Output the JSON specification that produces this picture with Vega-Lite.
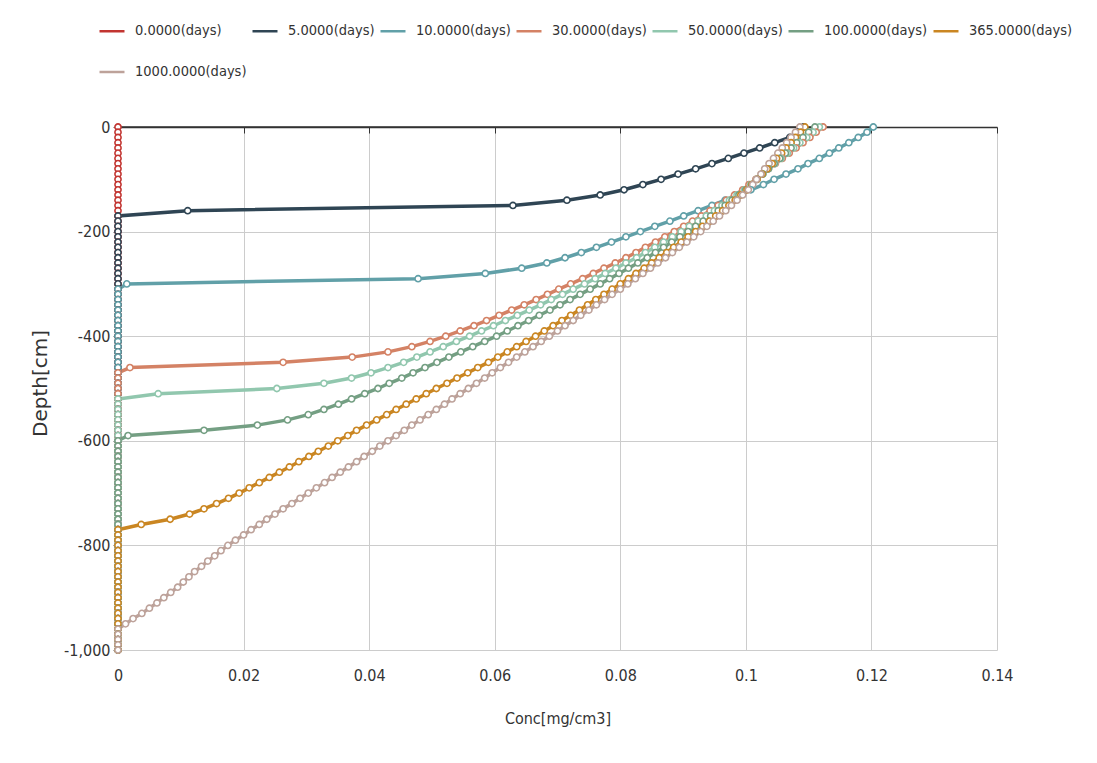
{
"$schema": "https://vega.github.io/schema/vega-lite/v6.json",
"width": 879, "height": 523,
"autosize": {"type": "none"},
"padding": {"left": 118, "top": 127, "right": 100, "bottom": 113},
"background": "white",
"config": {"view": {"stroke": null}, "font": "DejaVu Sans Condensed, Liberation Sans, sans-serif"},
"data": {"values": [
{"s":"0.0000(days)","d":0,"c":0},{"s":"0.0000(days)","d":-10,"c":0},{"s":"0.0000(days)","d":-20,"c":0},{"s":"0.0000(days)","d":-30,"c":0},{"s":"0.0000(days)","d":-40,"c":0},{"s":"0.0000(days)","d":-50,"c":0},{"s":"0.0000(days)","d":-60,"c":0},{"s":"0.0000(days)","d":-70,"c":0},{"s":"0.0000(days)","d":-80,"c":0},{"s":"0.0000(days)","d":-90,"c":0},{"s":"0.0000(days)","d":-100,"c":0},{"s":"0.0000(days)","d":-110,"c":0},{"s":"0.0000(days)","d":-120,"c":0},{"s":"0.0000(days)","d":-130,"c":0},{"s":"0.0000(days)","d":-140,"c":0},{"s":"0.0000(days)","d":-150,"c":0},{"s":"0.0000(days)","d":-160,"c":0},{"s":"0.0000(days)","d":-170,"c":0},{"s":"0.0000(days)","d":-180,"c":0},{"s":"0.0000(days)","d":-190,"c":0},{"s":"0.0000(days)","d":-200,"c":0},{"s":"0.0000(days)","d":-210,"c":0},{"s":"0.0000(days)","d":-220,"c":0},{"s":"0.0000(days)","d":-230,"c":0},{"s":"0.0000(days)","d":-240,"c":0},{"s":"0.0000(days)","d":-250,"c":0},{"s":"0.0000(days)","d":-260,"c":0},{"s":"0.0000(days)","d":-270,"c":0},{"s":"0.0000(days)","d":-280,"c":0},{"s":"0.0000(days)","d":-290,"c":0},{"s":"0.0000(days)","d":-300,"c":0},{"s":"0.0000(days)","d":-310,"c":0},{"s":"0.0000(days)","d":-320,"c":0},{"s":"0.0000(days)","d":-330,"c":0},{"s":"0.0000(days)","d":-340,"c":0},{"s":"0.0000(days)","d":-350,"c":0},{"s":"0.0000(days)","d":-360,"c":0},{"s":"0.0000(days)","d":-370,"c":0},{"s":"0.0000(days)","d":-380,"c":0},{"s":"0.0000(days)","d":-390,"c":0},{"s":"0.0000(days)","d":-400,"c":0},{"s":"0.0000(days)","d":-410,"c":0},{"s":"0.0000(days)","d":-420,"c":0},{"s":"0.0000(days)","d":-430,"c":0},{"s":"0.0000(days)","d":-440,"c":0},{"s":"0.0000(days)","d":-450,"c":0},{"s":"0.0000(days)","d":-460,"c":0},{"s":"0.0000(days)","d":-470,"c":0},{"s":"0.0000(days)","d":-480,"c":0},{"s":"0.0000(days)","d":-490,"c":0},{"s":"0.0000(days)","d":-500,"c":0},{"s":"0.0000(days)","d":-510,"c":0},{"s":"0.0000(days)","d":-520,"c":0},{"s":"0.0000(days)","d":-530,"c":0},{"s":"0.0000(days)","d":-540,"c":0},{"s":"0.0000(days)","d":-550,"c":0},{"s":"0.0000(days)","d":-560,"c":0},{"s":"0.0000(days)","d":-570,"c":0},{"s":"0.0000(days)","d":-580,"c":0},{"s":"0.0000(days)","d":-590,"c":0},{"s":"0.0000(days)","d":-600,"c":0},{"s":"0.0000(days)","d":-610,"c":0},{"s":"0.0000(days)","d":-620,"c":0},{"s":"0.0000(days)","d":-630,"c":0},{"s":"0.0000(days)","d":-640,"c":0},{"s":"0.0000(days)","d":-650,"c":0},{"s":"0.0000(days)","d":-660,"c":0},{"s":"0.0000(days)","d":-670,"c":0},{"s":"0.0000(days)","d":-680,"c":0},{"s":"0.0000(days)","d":-690,"c":0},{"s":"0.0000(days)","d":-700,"c":0},{"s":"0.0000(days)","d":-710,"c":0},{"s":"0.0000(days)","d":-720,"c":0},{"s":"0.0000(days)","d":-730,"c":0},{"s":"0.0000(days)","d":-740,"c":0},{"s":"0.0000(days)","d":-750,"c":0},{"s":"0.0000(days)","d":-760,"c":0},{"s":"0.0000(days)","d":-770,"c":0},{"s":"0.0000(days)","d":-780,"c":0},{"s":"0.0000(days)","d":-790,"c":0},{"s":"0.0000(days)","d":-800,"c":0},{"s":"0.0000(days)","d":-810,"c":0},{"s":"0.0000(days)","d":-820,"c":0},{"s":"0.0000(days)","d":-830,"c":0},{"s":"0.0000(days)","d":-840,"c":0},{"s":"0.0000(days)","d":-850,"c":0},{"s":"0.0000(days)","d":-860,"c":0},{"s":"0.0000(days)","d":-870,"c":0},{"s":"0.0000(days)","d":-880,"c":0},{"s":"0.0000(days)","d":-890,"c":0},{"s":"0.0000(days)","d":-900,"c":0},{"s":"0.0000(days)","d":-910,"c":0},{"s":"0.0000(days)","d":-920,"c":0},{"s":"0.0000(days)","d":-930,"c":0},{"s":"0.0000(days)","d":-940,"c":0},{"s":"0.0000(days)","d":-950,"c":0},{"s":"0.0000(days)","d":-960,"c":0},{"s":"0.0000(days)","d":-970,"c":0},{"s":"0.0000(days)","d":-980,"c":0},{"s":"0.0000(days)","d":-990,"c":0},{"s":"0.0000(days)","d":-1000,"c":0},
{"s":"5.0000(days)","d":0,"c":0.1092},{"s":"5.0000(days)","d":-10,"c":0.1082},{"s":"5.0000(days)","d":-20,"c":0.107},{"s":"5.0000(days)","d":-30,"c":0.1046},{"s":"5.0000(days)","d":-40,"c":0.1022},{"s":"5.0000(days)","d":-50,"c":0.0997},{"s":"5.0000(days)","d":-60,"c":0.0972},{"s":"5.0000(days)","d":-70,"c":0.0946},{"s":"5.0000(days)","d":-80,"c":0.092},{"s":"5.0000(days)","d":-90,"c":0.0892},{"s":"5.0000(days)","d":-100,"c":0.0865},{"s":"5.0000(days)","d":-110,"c":0.0836},{"s":"5.0000(days)","d":-120,"c":0.0806},{"s":"5.0000(days)","d":-130,"c":0.0768},{"s":"5.0000(days)","d":-140,"c":0.0715},{"s":"5.0000(days)","d":-150,"c":0.0629},{"s":"5.0000(days)","d":-160,"c":0.0111},{"s":"5.0000(days)","d":-170,"c":0},{"s":"5.0000(days)","d":-180,"c":0},{"s":"5.0000(days)","d":-190,"c":0},{"s":"5.0000(days)","d":-200,"c":0},{"s":"5.0000(days)","d":-210,"c":0},{"s":"5.0000(days)","d":-220,"c":0},{"s":"5.0000(days)","d":-230,"c":0},{"s":"5.0000(days)","d":-240,"c":0},{"s":"5.0000(days)","d":-250,"c":0},{"s":"5.0000(days)","d":-260,"c":0},{"s":"5.0000(days)","d":-270,"c":0},{"s":"5.0000(days)","d":-280,"c":0},{"s":"5.0000(days)","d":-290,"c":0},{"s":"5.0000(days)","d":-300,"c":0},{"s":"5.0000(days)","d":-310,"c":0},{"s":"5.0000(days)","d":-320,"c":0},{"s":"5.0000(days)","d":-330,"c":0},{"s":"5.0000(days)","d":-340,"c":0},{"s":"5.0000(days)","d":-350,"c":0},{"s":"5.0000(days)","d":-360,"c":0},{"s":"5.0000(days)","d":-370,"c":0},{"s":"5.0000(days)","d":-380,"c":0},{"s":"5.0000(days)","d":-390,"c":0},{"s":"5.0000(days)","d":-400,"c":0},{"s":"5.0000(days)","d":-410,"c":0},{"s":"5.0000(days)","d":-420,"c":0},{"s":"5.0000(days)","d":-430,"c":0},{"s":"5.0000(days)","d":-440,"c":0},{"s":"5.0000(days)","d":-450,"c":0},{"s":"5.0000(days)","d":-460,"c":0},{"s":"5.0000(days)","d":-470,"c":0},{"s":"5.0000(days)","d":-480,"c":0},{"s":"5.0000(days)","d":-490,"c":0},{"s":"5.0000(days)","d":-500,"c":0},{"s":"5.0000(days)","d":-510,"c":0},{"s":"5.0000(days)","d":-520,"c":0},{"s":"5.0000(days)","d":-530,"c":0},{"s":"5.0000(days)","d":-540,"c":0},{"s":"5.0000(days)","d":-550,"c":0},{"s":"5.0000(days)","d":-560,"c":0},{"s":"5.0000(days)","d":-570,"c":0},{"s":"5.0000(days)","d":-580,"c":0},{"s":"5.0000(days)","d":-590,"c":0},{"s":"5.0000(days)","d":-600,"c":0},{"s":"5.0000(days)","d":-610,"c":0},{"s":"5.0000(days)","d":-620,"c":0},{"s":"5.0000(days)","d":-630,"c":0},{"s":"5.0000(days)","d":-640,"c":0},{"s":"5.0000(days)","d":-650,"c":0},{"s":"5.0000(days)","d":-660,"c":0},{"s":"5.0000(days)","d":-670,"c":0},{"s":"5.0000(days)","d":-680,"c":0},{"s":"5.0000(days)","d":-690,"c":0},{"s":"5.0000(days)","d":-700,"c":0},{"s":"5.0000(days)","d":-710,"c":0},{"s":"5.0000(days)","d":-720,"c":0},{"s":"5.0000(days)","d":-730,"c":0},{"s":"5.0000(days)","d":-740,"c":0},{"s":"5.0000(days)","d":-750,"c":0},{"s":"5.0000(days)","d":-760,"c":0},{"s":"5.0000(days)","d":-770,"c":0},{"s":"5.0000(days)","d":-780,"c":0},{"s":"5.0000(days)","d":-790,"c":0},{"s":"5.0000(days)","d":-800,"c":0},{"s":"5.0000(days)","d":-810,"c":0},{"s":"5.0000(days)","d":-820,"c":0},{"s":"5.0000(days)","d":-830,"c":0},{"s":"5.0000(days)","d":-840,"c":0},{"s":"5.0000(days)","d":-850,"c":0},{"s":"5.0000(days)","d":-860,"c":0},{"s":"5.0000(days)","d":-870,"c":0},{"s":"5.0000(days)","d":-880,"c":0},{"s":"5.0000(days)","d":-890,"c":0},{"s":"5.0000(days)","d":-900,"c":0},{"s":"5.0000(days)","d":-910,"c":0},{"s":"5.0000(days)","d":-920,"c":0},{"s":"5.0000(days)","d":-930,"c":0},{"s":"5.0000(days)","d":-940,"c":0},{"s":"5.0000(days)","d":-950,"c":0},{"s":"5.0000(days)","d":-960,"c":0},{"s":"5.0000(days)","d":-970,"c":0},{"s":"5.0000(days)","d":-980,"c":0},{"s":"5.0000(days)","d":-990,"c":0},{"s":"5.0000(days)","d":-1000,"c":0},
{"s":"10.0000(days)","d":0,"c":0.1203},{"s":"10.0000(days)","d":-10,"c":0.1193},{"s":"10.0000(days)","d":-20,"c":0.1179},{"s":"10.0000(days)","d":-30,"c":0.1164},{"s":"10.0000(days)","d":-40,"c":0.1148},{"s":"10.0000(days)","d":-50,"c":0.1133},{"s":"10.0000(days)","d":-60,"c":0.1117},{"s":"10.0000(days)","d":-70,"c":0.1099},{"s":"10.0000(days)","d":-80,"c":0.1083},{"s":"10.0000(days)","d":-90,"c":0.1064},{"s":"10.0000(days)","d":-100,"c":0.1045},{"s":"10.0000(days)","d":-110,"c":0.1028},{"s":"10.0000(days)","d":-120,"c":0.1008},{"s":"10.0000(days)","d":-130,"c":0.0988},{"s":"10.0000(days)","d":-140,"c":0.0967},{"s":"10.0000(days)","d":-150,"c":0.0946},{"s":"10.0000(days)","d":-160,"c":0.0924},{"s":"10.0000(days)","d":-170,"c":0.0901},{"s":"10.0000(days)","d":-180,"c":0.0879},{"s":"10.0000(days)","d":-190,"c":0.0855},{"s":"10.0000(days)","d":-200,"c":0.0832},{"s":"10.0000(days)","d":-210,"c":0.0809},{"s":"10.0000(days)","d":-220,"c":0.0786},{"s":"10.0000(days)","d":-230,"c":0.0762},{"s":"10.0000(days)","d":-240,"c":0.0738},{"s":"10.0000(days)","d":-250,"c":0.0712},{"s":"10.0000(days)","d":-260,"c":0.0683},{"s":"10.0000(days)","d":-270,"c":0.0643},{"s":"10.0000(days)","d":-280,"c":0.0585},{"s":"10.0000(days)","d":-290,"c":0.0478},{"s":"10.0000(days)","d":-300,"c":0.0014},{"s":"10.0000(days)","d":-310,"c":0},{"s":"10.0000(days)","d":-320,"c":0},{"s":"10.0000(days)","d":-330,"c":0},{"s":"10.0000(days)","d":-340,"c":0},{"s":"10.0000(days)","d":-350,"c":0},{"s":"10.0000(days)","d":-360,"c":0},{"s":"10.0000(days)","d":-370,"c":0},{"s":"10.0000(days)","d":-380,"c":0},{"s":"10.0000(days)","d":-390,"c":0},{"s":"10.0000(days)","d":-400,"c":0},{"s":"10.0000(days)","d":-410,"c":0},{"s":"10.0000(days)","d":-420,"c":0},{"s":"10.0000(days)","d":-430,"c":0},{"s":"10.0000(days)","d":-440,"c":0},{"s":"10.0000(days)","d":-450,"c":0},{"s":"10.0000(days)","d":-460,"c":0},{"s":"10.0000(days)","d":-470,"c":0},{"s":"10.0000(days)","d":-480,"c":0},{"s":"10.0000(days)","d":-490,"c":0},{"s":"10.0000(days)","d":-500,"c":0},{"s":"10.0000(days)","d":-510,"c":0},{"s":"10.0000(days)","d":-520,"c":0},{"s":"10.0000(days)","d":-530,"c":0},{"s":"10.0000(days)","d":-540,"c":0},{"s":"10.0000(days)","d":-550,"c":0},{"s":"10.0000(days)","d":-560,"c":0},{"s":"10.0000(days)","d":-570,"c":0},{"s":"10.0000(days)","d":-580,"c":0},{"s":"10.0000(days)","d":-590,"c":0},{"s":"10.0000(days)","d":-600,"c":0},{"s":"10.0000(days)","d":-610,"c":0},{"s":"10.0000(days)","d":-620,"c":0},{"s":"10.0000(days)","d":-630,"c":0},{"s":"10.0000(days)","d":-640,"c":0},{"s":"10.0000(days)","d":-650,"c":0},{"s":"10.0000(days)","d":-660,"c":0},{"s":"10.0000(days)","d":-670,"c":0},{"s":"10.0000(days)","d":-680,"c":0},{"s":"10.0000(days)","d":-690,"c":0},{"s":"10.0000(days)","d":-700,"c":0},{"s":"10.0000(days)","d":-710,"c":0},{"s":"10.0000(days)","d":-720,"c":0},{"s":"10.0000(days)","d":-730,"c":0},{"s":"10.0000(days)","d":-740,"c":0},{"s":"10.0000(days)","d":-750,"c":0},{"s":"10.0000(days)","d":-760,"c":0},{"s":"10.0000(days)","d":-770,"c":0},{"s":"10.0000(days)","d":-780,"c":0},{"s":"10.0000(days)","d":-790,"c":0},{"s":"10.0000(days)","d":-800,"c":0},{"s":"10.0000(days)","d":-810,"c":0},{"s":"10.0000(days)","d":-820,"c":0},{"s":"10.0000(days)","d":-830,"c":0},{"s":"10.0000(days)","d":-840,"c":0},{"s":"10.0000(days)","d":-850,"c":0},{"s":"10.0000(days)","d":-860,"c":0},{"s":"10.0000(days)","d":-870,"c":0},{"s":"10.0000(days)","d":-880,"c":0},{"s":"10.0000(days)","d":-890,"c":0},{"s":"10.0000(days)","d":-900,"c":0},{"s":"10.0000(days)","d":-910,"c":0},{"s":"10.0000(days)","d":-920,"c":0},{"s":"10.0000(days)","d":-930,"c":0},{"s":"10.0000(days)","d":-940,"c":0},{"s":"10.0000(days)","d":-950,"c":0},{"s":"10.0000(days)","d":-960,"c":0},{"s":"10.0000(days)","d":-970,"c":0},{"s":"10.0000(days)","d":-980,"c":0},{"s":"10.0000(days)","d":-990,"c":0},{"s":"10.0000(days)","d":-1000,"c":0},
{"s":"30.0000(days)","d":0,"c":0.1123},{"s":"30.0000(days)","d":-10,"c":0.1112},{"s":"30.0000(days)","d":-20,"c":0.1102},{"s":"30.0000(days)","d":-30,"c":0.1091},{"s":"30.0000(days)","d":-40,"c":0.108},{"s":"30.0000(days)","d":-50,"c":0.1069},{"s":"30.0000(days)","d":-60,"c":0.1058},{"s":"30.0000(days)","d":-70,"c":0.1047},{"s":"30.0000(days)","d":-80,"c":0.1036},{"s":"30.0000(days)","d":-90,"c":0.1026},{"s":"30.0000(days)","d":-100,"c":0.1016},{"s":"30.0000(days)","d":-110,"c":0.1005},{"s":"30.0000(days)","d":-120,"c":0.0995},{"s":"30.0000(days)","d":-130,"c":0.0982},{"s":"30.0000(days)","d":-140,"c":0.0969},{"s":"30.0000(days)","d":-150,"c":0.0956},{"s":"30.0000(days)","d":-160,"c":0.0943},{"s":"30.0000(days)","d":-170,"c":0.0929},{"s":"30.0000(days)","d":-180,"c":0.0915},{"s":"30.0000(days)","d":-190,"c":0.0901},{"s":"30.0000(days)","d":-200,"c":0.0886},{"s":"30.0000(days)","d":-210,"c":0.0871},{"s":"30.0000(days)","d":-220,"c":0.0856},{"s":"30.0000(days)","d":-230,"c":0.084},{"s":"30.0000(days)","d":-240,"c":0.0825},{"s":"30.0000(days)","d":-250,"c":0.0809},{"s":"30.0000(days)","d":-260,"c":0.0792},{"s":"30.0000(days)","d":-270,"c":0.0774},{"s":"30.0000(days)","d":-280,"c":0.0757},{"s":"30.0000(days)","d":-290,"c":0.074},{"s":"30.0000(days)","d":-300,"c":0.0721},{"s":"30.0000(days)","d":-310,"c":0.0702},{"s":"30.0000(days)","d":-320,"c":0.0684},{"s":"30.0000(days)","d":-330,"c":0.0666},{"s":"30.0000(days)","d":-340,"c":0.0647},{"s":"30.0000(days)","d":-350,"c":0.0627},{"s":"30.0000(days)","d":-360,"c":0.0607},{"s":"30.0000(days)","d":-370,"c":0.0587},{"s":"30.0000(days)","d":-380,"c":0.0567},{"s":"30.0000(days)","d":-390,"c":0.0545},{"s":"30.0000(days)","d":-400,"c":0.0522},{"s":"30.0000(days)","d":-410,"c":0.0497},{"s":"30.0000(days)","d":-420,"c":0.0468},{"s":"30.0000(days)","d":-430,"c":0.043},{"s":"30.0000(days)","d":-440,"c":0.0373},{"s":"30.0000(days)","d":-450,"c":0.0263},{"s":"30.0000(days)","d":-460,"c":0.0019},{"s":"30.0000(days)","d":-470,"c":0},{"s":"30.0000(days)","d":-480,"c":0},{"s":"30.0000(days)","d":-490,"c":0},{"s":"30.0000(days)","d":-500,"c":0},{"s":"30.0000(days)","d":-510,"c":0},{"s":"30.0000(days)","d":-520,"c":0},{"s":"30.0000(days)","d":-530,"c":0},{"s":"30.0000(days)","d":-540,"c":0},{"s":"30.0000(days)","d":-550,"c":0},{"s":"30.0000(days)","d":-560,"c":0},{"s":"30.0000(days)","d":-570,"c":0},{"s":"30.0000(days)","d":-580,"c":0},{"s":"30.0000(days)","d":-590,"c":0},{"s":"30.0000(days)","d":-600,"c":0},{"s":"30.0000(days)","d":-610,"c":0},{"s":"30.0000(days)","d":-620,"c":0},{"s":"30.0000(days)","d":-630,"c":0},{"s":"30.0000(days)","d":-640,"c":0},{"s":"30.0000(days)","d":-650,"c":0},{"s":"30.0000(days)","d":-660,"c":0},{"s":"30.0000(days)","d":-670,"c":0},{"s":"30.0000(days)","d":-680,"c":0},{"s":"30.0000(days)","d":-690,"c":0},{"s":"30.0000(days)","d":-700,"c":0},{"s":"30.0000(days)","d":-710,"c":0},{"s":"30.0000(days)","d":-720,"c":0},{"s":"30.0000(days)","d":-730,"c":0},{"s":"30.0000(days)","d":-740,"c":0},{"s":"30.0000(days)","d":-750,"c":0},{"s":"30.0000(days)","d":-760,"c":0},{"s":"30.0000(days)","d":-770,"c":0},{"s":"30.0000(days)","d":-780,"c":0},{"s":"30.0000(days)","d":-790,"c":0},{"s":"30.0000(days)","d":-800,"c":0},{"s":"30.0000(days)","d":-810,"c":0},{"s":"30.0000(days)","d":-820,"c":0},{"s":"30.0000(days)","d":-830,"c":0},{"s":"30.0000(days)","d":-840,"c":0},{"s":"30.0000(days)","d":-850,"c":0},{"s":"30.0000(days)","d":-860,"c":0},{"s":"30.0000(days)","d":-870,"c":0},{"s":"30.0000(days)","d":-880,"c":0},{"s":"30.0000(days)","d":-890,"c":0},{"s":"30.0000(days)","d":-900,"c":0},{"s":"30.0000(days)","d":-910,"c":0},{"s":"30.0000(days)","d":-920,"c":0},{"s":"30.0000(days)","d":-930,"c":0},{"s":"30.0000(days)","d":-940,"c":0},{"s":"30.0000(days)","d":-950,"c":0},{"s":"30.0000(days)","d":-960,"c":0},{"s":"30.0000(days)","d":-970,"c":0},{"s":"30.0000(days)","d":-980,"c":0},{"s":"30.0000(days)","d":-990,"c":0},{"s":"30.0000(days)","d":-1000,"c":0},
{"s":"50.0000(days)","d":0,"c":0.1117},{"s":"50.0000(days)","d":-10,"c":0.1107},{"s":"50.0000(days)","d":-20,"c":0.1097},{"s":"50.0000(days)","d":-30,"c":0.1086},{"s":"50.0000(days)","d":-40,"c":0.1076},{"s":"50.0000(days)","d":-50,"c":0.1066},{"s":"50.0000(days)","d":-60,"c":0.1056},{"s":"50.0000(days)","d":-70,"c":0.1046},{"s":"50.0000(days)","d":-80,"c":0.1036},{"s":"50.0000(days)","d":-90,"c":0.1027},{"s":"50.0000(days)","d":-100,"c":0.1017},{"s":"50.0000(days)","d":-110,"c":0.1008},{"s":"50.0000(days)","d":-120,"c":0.0998},{"s":"50.0000(days)","d":-130,"c":0.0986},{"s":"50.0000(days)","d":-140,"c":0.0974},{"s":"50.0000(days)","d":-150,"c":0.0962},{"s":"50.0000(days)","d":-160,"c":0.095},{"s":"50.0000(days)","d":-170,"c":0.0937},{"s":"50.0000(days)","d":-180,"c":0.0924},{"s":"50.0000(days)","d":-190,"c":0.091},{"s":"50.0000(days)","d":-200,"c":0.0897},{"s":"50.0000(days)","d":-210,"c":0.0883},{"s":"50.0000(days)","d":-220,"c":0.0869},{"s":"50.0000(days)","d":-230,"c":0.0855},{"s":"50.0000(days)","d":-240,"c":0.084},{"s":"50.0000(days)","d":-250,"c":0.0826},{"s":"50.0000(days)","d":-260,"c":0.0809},{"s":"50.0000(days)","d":-270,"c":0.0793},{"s":"50.0000(days)","d":-280,"c":0.0776},{"s":"50.0000(days)","d":-290,"c":0.076},{"s":"50.0000(days)","d":-300,"c":0.0743},{"s":"50.0000(days)","d":-310,"c":0.0725},{"s":"50.0000(days)","d":-320,"c":0.0708},{"s":"50.0000(days)","d":-330,"c":0.069},{"s":"50.0000(days)","d":-340,"c":0.0673},{"s":"50.0000(days)","d":-350,"c":0.0655},{"s":"50.0000(days)","d":-360,"c":0.0636},{"s":"50.0000(days)","d":-370,"c":0.0617},{"s":"50.0000(days)","d":-380,"c":0.0598},{"s":"50.0000(days)","d":-390,"c":0.0579},{"s":"50.0000(days)","d":-400,"c":0.056},{"s":"50.0000(days)","d":-410,"c":0.0539},{"s":"50.0000(days)","d":-420,"c":0.0518},{"s":"50.0000(days)","d":-430,"c":0.0497},{"s":"50.0000(days)","d":-440,"c":0.0476},{"s":"50.0000(days)","d":-450,"c":0.0455},{"s":"50.0000(days)","d":-460,"c":0.043},{"s":"50.0000(days)","d":-470,"c":0.0403},{"s":"50.0000(days)","d":-480,"c":0.0372},{"s":"50.0000(days)","d":-490,"c":0.0328},{"s":"50.0000(days)","d":-500,"c":0.0253},{"s":"50.0000(days)","d":-510,"c":0.0064},{"s":"50.0000(days)","d":-520,"c":0},{"s":"50.0000(days)","d":-530,"c":0},{"s":"50.0000(days)","d":-540,"c":0},{"s":"50.0000(days)","d":-550,"c":0},{"s":"50.0000(days)","d":-560,"c":0},{"s":"50.0000(days)","d":-570,"c":0},{"s":"50.0000(days)","d":-580,"c":0},{"s":"50.0000(days)","d":-590,"c":0},{"s":"50.0000(days)","d":-600,"c":0},{"s":"50.0000(days)","d":-610,"c":0},{"s":"50.0000(days)","d":-620,"c":0},{"s":"50.0000(days)","d":-630,"c":0},{"s":"50.0000(days)","d":-640,"c":0},{"s":"50.0000(days)","d":-650,"c":0},{"s":"50.0000(days)","d":-660,"c":0},{"s":"50.0000(days)","d":-670,"c":0},{"s":"50.0000(days)","d":-680,"c":0},{"s":"50.0000(days)","d":-690,"c":0},{"s":"50.0000(days)","d":-700,"c":0},{"s":"50.0000(days)","d":-710,"c":0},{"s":"50.0000(days)","d":-720,"c":0},{"s":"50.0000(days)","d":-730,"c":0},{"s":"50.0000(days)","d":-740,"c":0},{"s":"50.0000(days)","d":-750,"c":0},{"s":"50.0000(days)","d":-760,"c":0},{"s":"50.0000(days)","d":-770,"c":0},{"s":"50.0000(days)","d":-780,"c":0},{"s":"50.0000(days)","d":-790,"c":0},{"s":"50.0000(days)","d":-800,"c":0},{"s":"50.0000(days)","d":-810,"c":0},{"s":"50.0000(days)","d":-820,"c":0},{"s":"50.0000(days)","d":-830,"c":0},{"s":"50.0000(days)","d":-840,"c":0},{"s":"50.0000(days)","d":-850,"c":0},{"s":"50.0000(days)","d":-860,"c":0},{"s":"50.0000(days)","d":-870,"c":0},{"s":"50.0000(days)","d":-880,"c":0},{"s":"50.0000(days)","d":-890,"c":0},{"s":"50.0000(days)","d":-900,"c":0},{"s":"50.0000(days)","d":-910,"c":0},{"s":"50.0000(days)","d":-920,"c":0},{"s":"50.0000(days)","d":-930,"c":0},{"s":"50.0000(days)","d":-940,"c":0},{"s":"50.0000(days)","d":-950,"c":0},{"s":"50.0000(days)","d":-960,"c":0},{"s":"50.0000(days)","d":-970,"c":0},{"s":"50.0000(days)","d":-980,"c":0},{"s":"50.0000(days)","d":-990,"c":0},{"s":"50.0000(days)","d":-1000,"c":0},
{"s":"100.0000(days)","d":0,"c":0.111},{"s":"100.0000(days)","d":-10,"c":0.11},{"s":"100.0000(days)","d":-20,"c":0.1091},{"s":"100.0000(days)","d":-30,"c":0.1081},{"s":"100.0000(days)","d":-40,"c":0.1072},{"s":"100.0000(days)","d":-50,"c":0.1063},{"s":"100.0000(days)","d":-60,"c":0.1054},{"s":"100.0000(days)","d":-70,"c":0.1045},{"s":"100.0000(days)","d":-80,"c":0.1036},{"s":"100.0000(days)","d":-90,"c":0.1027},{"s":"100.0000(days)","d":-100,"c":0.1018},{"s":"100.0000(days)","d":-110,"c":0.1009},{"s":"100.0000(days)","d":-120,"c":0.1},{"s":"100.0000(days)","d":-130,"c":0.0989},{"s":"100.0000(days)","d":-140,"c":0.0978},{"s":"100.0000(days)","d":-150,"c":0.0967},{"s":"100.0000(days)","d":-160,"c":0.0956},{"s":"100.0000(days)","d":-170,"c":0.0944},{"s":"100.0000(days)","d":-180,"c":0.0932},{"s":"100.0000(days)","d":-190,"c":0.092},{"s":"100.0000(days)","d":-200,"c":0.0908},{"s":"100.0000(days)","d":-210,"c":0.0895},{"s":"100.0000(days)","d":-220,"c":0.0882},{"s":"100.0000(days)","d":-230,"c":0.0869},{"s":"100.0000(days)","d":-240,"c":0.0856},{"s":"100.0000(days)","d":-250,"c":0.0843},{"s":"100.0000(days)","d":-260,"c":0.0828},{"s":"100.0000(days)","d":-270,"c":0.0813},{"s":"100.0000(days)","d":-280,"c":0.0798},{"s":"100.0000(days)","d":-290,"c":0.0783},{"s":"100.0000(days)","d":-300,"c":0.0768},{"s":"100.0000(days)","d":-310,"c":0.0752},{"s":"100.0000(days)","d":-320,"c":0.0736},{"s":"100.0000(days)","d":-330,"c":0.072},{"s":"100.0000(days)","d":-340,"c":0.0704},{"s":"100.0000(days)","d":-350,"c":0.0688},{"s":"100.0000(days)","d":-360,"c":0.0671},{"s":"100.0000(days)","d":-370,"c":0.0654},{"s":"100.0000(days)","d":-380,"c":0.0637},{"s":"100.0000(days)","d":-390,"c":0.062},{"s":"100.0000(days)","d":-400,"c":0.0603},{"s":"100.0000(days)","d":-410,"c":0.0584},{"s":"100.0000(days)","d":-420,"c":0.0565},{"s":"100.0000(days)","d":-430,"c":0.0546},{"s":"100.0000(days)","d":-440,"c":0.0527},{"s":"100.0000(days)","d":-450,"c":0.0508},{"s":"100.0000(days)","d":-460,"c":0.0489},{"s":"100.0000(days)","d":-470,"c":0.047},{"s":"100.0000(days)","d":-480,"c":0.0452},{"s":"100.0000(days)","d":-490,"c":0.0432},{"s":"100.0000(days)","d":-500,"c":0.0414},{"s":"100.0000(days)","d":-510,"c":0.0393},{"s":"100.0000(days)","d":-520,"c":0.0372},{"s":"100.0000(days)","d":-530,"c":0.0351},{"s":"100.0000(days)","d":-540,"c":0.0328},{"s":"100.0000(days)","d":-550,"c":0.0303},{"s":"100.0000(days)","d":-560,"c":0.027},{"s":"100.0000(days)","d":-570,"c":0.0222},{"s":"100.0000(days)","d":-580,"c":0.0137},{"s":"100.0000(days)","d":-590,"c":0.0016},{"s":"100.0000(days)","d":-600,"c":0},{"s":"100.0000(days)","d":-610,"c":0},{"s":"100.0000(days)","d":-620,"c":0},{"s":"100.0000(days)","d":-630,"c":0},{"s":"100.0000(days)","d":-640,"c":0},{"s":"100.0000(days)","d":-650,"c":0},{"s":"100.0000(days)","d":-660,"c":0},{"s":"100.0000(days)","d":-670,"c":0},{"s":"100.0000(days)","d":-680,"c":0},{"s":"100.0000(days)","d":-690,"c":0},{"s":"100.0000(days)","d":-700,"c":0},{"s":"100.0000(days)","d":-710,"c":0},{"s":"100.0000(days)","d":-720,"c":0},{"s":"100.0000(days)","d":-730,"c":0},{"s":"100.0000(days)","d":-740,"c":0},{"s":"100.0000(days)","d":-750,"c":0},{"s":"100.0000(days)","d":-760,"c":0},{"s":"100.0000(days)","d":-770,"c":0},{"s":"100.0000(days)","d":-780,"c":0},{"s":"100.0000(days)","d":-790,"c":0},{"s":"100.0000(days)","d":-800,"c":0},{"s":"100.0000(days)","d":-810,"c":0},{"s":"100.0000(days)","d":-820,"c":0},{"s":"100.0000(days)","d":-830,"c":0},{"s":"100.0000(days)","d":-840,"c":0},{"s":"100.0000(days)","d":-850,"c":0},{"s":"100.0000(days)","d":-860,"c":0},{"s":"100.0000(days)","d":-870,"c":0},{"s":"100.0000(days)","d":-880,"c":0},{"s":"100.0000(days)","d":-890,"c":0},{"s":"100.0000(days)","d":-900,"c":0},{"s":"100.0000(days)","d":-910,"c":0},{"s":"100.0000(days)","d":-920,"c":0},{"s":"100.0000(days)","d":-930,"c":0},{"s":"100.0000(days)","d":-940,"c":0},{"s":"100.0000(days)","d":-950,"c":0},{"s":"100.0000(days)","d":-960,"c":0},{"s":"100.0000(days)","d":-970,"c":0},{"s":"100.0000(days)","d":-980,"c":0},{"s":"100.0000(days)","d":-990,"c":0},{"s":"100.0000(days)","d":-1000,"c":0},
{"s":"365.0000(days)","d":0,"c":0.1094},{"s":"365.0000(days)","d":-10,"c":0.1087},{"s":"365.0000(days)","d":-20,"c":0.1079},{"s":"365.0000(days)","d":-30,"c":0.1072},{"s":"365.0000(days)","d":-40,"c":0.1064},{"s":"365.0000(days)","d":-50,"c":0.1057},{"s":"365.0000(days)","d":-60,"c":0.1049},{"s":"365.0000(days)","d":-70,"c":0.1042},{"s":"365.0000(days)","d":-80,"c":0.1034},{"s":"365.0000(days)","d":-90,"c":0.1026},{"s":"365.0000(days)","d":-100,"c":0.1018},{"s":"365.0000(days)","d":-110,"c":0.101},{"s":"365.0000(days)","d":-120,"c":0.1002},{"s":"365.0000(days)","d":-130,"c":0.0992},{"s":"365.0000(days)","d":-140,"c":0.0983},{"s":"365.0000(days)","d":-150,"c":0.0973},{"s":"365.0000(days)","d":-160,"c":0.0963},{"s":"365.0000(days)","d":-170,"c":0.0952},{"s":"365.0000(days)","d":-180,"c":0.0942},{"s":"365.0000(days)","d":-190,"c":0.0931},{"s":"365.0000(days)","d":-200,"c":0.092},{"s":"365.0000(days)","d":-210,"c":0.0908},{"s":"365.0000(days)","d":-220,"c":0.0897},{"s":"365.0000(days)","d":-230,"c":0.0885},{"s":"365.0000(days)","d":-240,"c":0.0874},{"s":"365.0000(days)","d":-250,"c":0.0862},{"s":"365.0000(days)","d":-260,"c":0.085},{"s":"365.0000(days)","d":-270,"c":0.0838},{"s":"365.0000(days)","d":-280,"c":0.0825},{"s":"365.0000(days)","d":-290,"c":0.0813},{"s":"365.0000(days)","d":-300,"c":0.08},{"s":"365.0000(days)","d":-310,"c":0.0787},{"s":"365.0000(days)","d":-320,"c":0.0774},{"s":"365.0000(days)","d":-330,"c":0.0761},{"s":"365.0000(days)","d":-340,"c":0.0748},{"s":"365.0000(days)","d":-350,"c":0.0735},{"s":"365.0000(days)","d":-360,"c":0.0721},{"s":"365.0000(days)","d":-370,"c":0.0707},{"s":"365.0000(days)","d":-380,"c":0.0693},{"s":"365.0000(days)","d":-390,"c":0.0679},{"s":"365.0000(days)","d":-400,"c":0.0665},{"s":"365.0000(days)","d":-410,"c":0.065},{"s":"365.0000(days)","d":-420,"c":0.0635},{"s":"365.0000(days)","d":-430,"c":0.062},{"s":"365.0000(days)","d":-440,"c":0.0605},{"s":"365.0000(days)","d":-450,"c":0.059},{"s":"365.0000(days)","d":-460,"c":0.0573},{"s":"365.0000(days)","d":-470,"c":0.0557},{"s":"365.0000(days)","d":-480,"c":0.054},{"s":"365.0000(days)","d":-490,"c":0.0524},{"s":"365.0000(days)","d":-500,"c":0.0507},{"s":"365.0000(days)","d":-510,"c":0.0491},{"s":"365.0000(days)","d":-520,"c":0.0475},{"s":"365.0000(days)","d":-530,"c":0.0459},{"s":"365.0000(days)","d":-540,"c":0.0443},{"s":"365.0000(days)","d":-550,"c":0.0428},{"s":"365.0000(days)","d":-560,"c":0.0412},{"s":"365.0000(days)","d":-570,"c":0.0396},{"s":"365.0000(days)","d":-580,"c":0.038},{"s":"365.0000(days)","d":-590,"c":0.0366},{"s":"365.0000(days)","d":-600,"c":0.035},{"s":"365.0000(days)","d":-610,"c":0.0335},{"s":"365.0000(days)","d":-620,"c":0.0319},{"s":"365.0000(days)","d":-630,"c":0.0304},{"s":"365.0000(days)","d":-640,"c":0.0288},{"s":"365.0000(days)","d":-650,"c":0.0273},{"s":"365.0000(days)","d":-660,"c":0.0257},{"s":"365.0000(days)","d":-670,"c":0.0241},{"s":"365.0000(days)","d":-680,"c":0.0225},{"s":"365.0000(days)","d":-690,"c":0.0209},{"s":"365.0000(days)","d":-700,"c":0.0193},{"s":"365.0000(days)","d":-710,"c":0.0176},{"s":"365.0000(days)","d":-720,"c":0.0157},{"s":"365.0000(days)","d":-730,"c":0.0137},{"s":"365.0000(days)","d":-740,"c":0.0114},{"s":"365.0000(days)","d":-750,"c":0.0083},{"s":"365.0000(days)","d":-760,"c":0.0037},{"s":"365.0000(days)","d":-770,"c":0},{"s":"365.0000(days)","d":-780,"c":0},{"s":"365.0000(days)","d":-790,"c":0},{"s":"365.0000(days)","d":-800,"c":0},{"s":"365.0000(days)","d":-810,"c":0},{"s":"365.0000(days)","d":-820,"c":0},{"s":"365.0000(days)","d":-830,"c":0},{"s":"365.0000(days)","d":-840,"c":0},{"s":"365.0000(days)","d":-850,"c":0},{"s":"365.0000(days)","d":-860,"c":0},{"s":"365.0000(days)","d":-870,"c":0},{"s":"365.0000(days)","d":-880,"c":0},{"s":"365.0000(days)","d":-890,"c":0},{"s":"365.0000(days)","d":-900,"c":0},{"s":"365.0000(days)","d":-910,"c":0},{"s":"365.0000(days)","d":-920,"c":0},{"s":"365.0000(days)","d":-930,"c":0},{"s":"365.0000(days)","d":-940,"c":0},{"s":"365.0000(days)","d":-950,"c":0},{"s":"365.0000(days)","d":-960,"c":0},{"s":"365.0000(days)","d":-970,"c":0},{"s":"365.0000(days)","d":-980,"c":0},{"s":"365.0000(days)","d":-990,"c":0},{"s":"365.0000(days)","d":-1000,"c":0},
{"s":"1000.0000(days)","d":0,"c":0.1086},{"s":"1000.0000(days)","d":-10,"c":0.1079},{"s":"1000.0000(days)","d":-20,"c":0.1072},{"s":"1000.0000(days)","d":-30,"c":0.1065},{"s":"1000.0000(days)","d":-40,"c":0.1058},{"s":"1000.0000(days)","d":-50,"c":0.1051},{"s":"1000.0000(days)","d":-60,"c":0.1044},{"s":"1000.0000(days)","d":-70,"c":0.1037},{"s":"1000.0000(days)","d":-80,"c":0.103},{"s":"1000.0000(days)","d":-90,"c":0.1024},{"s":"1000.0000(days)","d":-100,"c":0.1017},{"s":"1000.0000(days)","d":-110,"c":0.1011},{"s":"1000.0000(days)","d":-120,"c":0.1004},{"s":"1000.0000(days)","d":-130,"c":0.0995},{"s":"1000.0000(days)","d":-140,"c":0.0986},{"s":"1000.0000(days)","d":-150,"c":0.0977},{"s":"1000.0000(days)","d":-160,"c":0.0968},{"s":"1000.0000(days)","d":-170,"c":0.0958},{"s":"1000.0000(days)","d":-180,"c":0.0948},{"s":"1000.0000(days)","d":-190,"c":0.0938},{"s":"1000.0000(days)","d":-200,"c":0.0928},{"s":"1000.0000(days)","d":-210,"c":0.0917},{"s":"1000.0000(days)","d":-220,"c":0.0906},{"s":"1000.0000(days)","d":-230,"c":0.0894},{"s":"1000.0000(days)","d":-240,"c":0.0883},{"s":"1000.0000(days)","d":-250,"c":0.0872},{"s":"1000.0000(days)","d":-260,"c":0.086},{"s":"1000.0000(days)","d":-270,"c":0.0848},{"s":"1000.0000(days)","d":-280,"c":0.0836},{"s":"1000.0000(days)","d":-290,"c":0.0824},{"s":"1000.0000(days)","d":-300,"c":0.0812},{"s":"1000.0000(days)","d":-310,"c":0.08},{"s":"1000.0000(days)","d":-320,"c":0.0787},{"s":"1000.0000(days)","d":-330,"c":0.0775},{"s":"1000.0000(days)","d":-340,"c":0.0762},{"s":"1000.0000(days)","d":-350,"c":0.075},{"s":"1000.0000(days)","d":-360,"c":0.0737},{"s":"1000.0000(days)","d":-370,"c":0.0725},{"s":"1000.0000(days)","d":-380,"c":0.0712},{"s":"1000.0000(days)","d":-390,"c":0.07},{"s":"1000.0000(days)","d":-400,"c":0.0687},{"s":"1000.0000(days)","d":-410,"c":0.0674},{"s":"1000.0000(days)","d":-420,"c":0.0661},{"s":"1000.0000(days)","d":-430,"c":0.0648},{"s":"1000.0000(days)","d":-440,"c":0.0635},{"s":"1000.0000(days)","d":-450,"c":0.0622},{"s":"1000.0000(days)","d":-460,"c":0.0609},{"s":"1000.0000(days)","d":-470,"c":0.0596},{"s":"1000.0000(days)","d":-480,"c":0.0584},{"s":"1000.0000(days)","d":-490,"c":0.0571},{"s":"1000.0000(days)","d":-500,"c":0.0558},{"s":"1000.0000(days)","d":-510,"c":0.0545},{"s":"1000.0000(days)","d":-520,"c":0.0532},{"s":"1000.0000(days)","d":-530,"c":0.052},{"s":"1000.0000(days)","d":-540,"c":0.0507},{"s":"1000.0000(days)","d":-550,"c":0.0494},{"s":"1000.0000(days)","d":-560,"c":0.0481},{"s":"1000.0000(days)","d":-570,"c":0.0468},{"s":"1000.0000(days)","d":-580,"c":0.0456},{"s":"1000.0000(days)","d":-590,"c":0.0443},{"s":"1000.0000(days)","d":-600,"c":0.043},{"s":"1000.0000(days)","d":-610,"c":0.0417},{"s":"1000.0000(days)","d":-620,"c":0.0405},{"s":"1000.0000(days)","d":-630,"c":0.0392},{"s":"1000.0000(days)","d":-640,"c":0.038},{"s":"1000.0000(days)","d":-650,"c":0.0367},{"s":"1000.0000(days)","d":-660,"c":0.0354},{"s":"1000.0000(days)","d":-670,"c":0.0341},{"s":"1000.0000(days)","d":-680,"c":0.0329},{"s":"1000.0000(days)","d":-690,"c":0.0316},{"s":"1000.0000(days)","d":-700,"c":0.0303},{"s":"1000.0000(days)","d":-710,"c":0.029},{"s":"1000.0000(days)","d":-720,"c":0.0277},{"s":"1000.0000(days)","d":-730,"c":0.0263},{"s":"1000.0000(days)","d":-740,"c":0.025},{"s":"1000.0000(days)","d":-750,"c":0.0237},{"s":"1000.0000(days)","d":-760,"c":0.0225},{"s":"1000.0000(days)","d":-770,"c":0.0212},{"s":"1000.0000(days)","d":-780,"c":0.02},{"s":"1000.0000(days)","d":-790,"c":0.0187},{"s":"1000.0000(days)","d":-800,"c":0.0175},{"s":"1000.0000(days)","d":-810,"c":0.0164},{"s":"1000.0000(days)","d":-820,"c":0.0154},{"s":"1000.0000(days)","d":-830,"c":0.0143},{"s":"1000.0000(days)","d":-840,"c":0.0133},{"s":"1000.0000(days)","d":-850,"c":0.0122},{"s":"1000.0000(days)","d":-860,"c":0.0113},{"s":"1000.0000(days)","d":-870,"c":0.0104},{"s":"1000.0000(days)","d":-880,"c":0.0095},{"s":"1000.0000(days)","d":-890,"c":0.0084},{"s":"1000.0000(days)","d":-900,"c":0.0073},{"s":"1000.0000(days)","d":-910,"c":0.0062},{"s":"1000.0000(days)","d":-920,"c":0.005},{"s":"1000.0000(days)","d":-930,"c":0.0038},{"s":"1000.0000(days)","d":-940,"c":0.0024},{"s":"1000.0000(days)","d":-950,"c":0.0012},{"s":"1000.0000(days)","d":-960,"c":0},{"s":"1000.0000(days)","d":-970,"c":0},{"s":"1000.0000(days)","d":-980,"c":0},{"s":"1000.0000(days)","d":-990,"c":0},{"s":"1000.0000(days)","d":-1000,"c":0}
]},
"layer": [
{"mark": {"type": "rule", "color": "#333", "strokeWidth": 1.5},
 "encoding": {
  "y": {"datum": 0, "type": "quantitative"},
  "x": {"aggregate": "min", "field": "c", "type": "quantitative", "scale": {"domain": [0, 0.14], "nice": false},
        "axis": {"orient": "top", "labels": false, "grid": false, "title": null, "domain": true, "domainColor": "#333", "domainWidth": 1.5, "ticks": true, "tickColor": "#333", "tickSize": -6, "values": [0, 0.02, 0.04, 0.06, 0.08, 0.1, 0.12, 0.14]}},
  "x2": {"aggregate": "max", "field": "c"}
 }},
{"mark": {"type": "line", "strokeWidth": 3.5, "point": {"filled": false, "fill": "white", "size": 38, "strokeWidth": 1.6}},
 "encoding": {
  "x": {"field": "c", "type": "quantitative", "scale": {"domain": [0, 0.14], "nice": false},
        "axis": {"orient": "bottom", "values": [0, 0.02, 0.04, 0.06, 0.08, 0.1, 0.12, 0.14], "format": "~g", "labelFlush": false, "domain": false, "ticks": false, "grid": true, "gridColor": "#cccccc", "labelFontSize": 16, "labelColor": "#333", "labelPadding": 17, "title": "Conc[mg/cm3]", "titleFontSize": 16, "titleFontWeight": "normal", "titleColor": "#333", "titlePadding": 27}},
  "y": {"field": "d", "type": "quantitative", "scale": {"domain": [-1000, 0], "nice": false},
        "axis": {"values": [-1000, -800, -600, -400, -200, 0], "labelExpr": "datum.value == 0 ? '0' : '-' + format(-datum.value, ',.0f')", "labelFlush": false, "domain": false, "ticks": true, "tickSize": 5, "tickColor": "#666", "grid": true, "gridColor": "#cccccc", "labelFontSize": 16, "labelColor": "#333", "labelPadding": 3, "title": "Depth[cm]", "titleFont": "DejaVu Sans", "titleFontSize": 20, "titleFontWeight": "normal", "titleColor": "#333", "titleAngle": -90, "titleX": -78, "titleY": 256, "titleAlign": "center", "titleBaseline": "middle"}},
  "color": {"field": "s", "type": "nominal",
    "scale": {"domain": ["0.0000(days)", "5.0000(days)", "10.0000(days)", "30.0000(days)", "50.0000(days)", "100.0000(days)", "365.0000(days)", "1000.0000(days)"],
              "range": ["#c23531", "#2f4554", "#61a0a8", "#d48265", "#91c7ae", "#749f83", "#ca8622", "#bda29a"]},
    "legend": {"title": null, "orient": "none", "legendX": -20, "legendY": -110, "direction": "horizontal", "columns": 7, "symbolType": "stroke", "symbolSize": 625, "symbolStrokeWidth": 2.5, "labelFontSize": 14.5, "labelColor": "#333", "labelOffset": 9, "columnPadding": 0, "rowPadding": 20}},
  "order": {"field": "d", "type": "quantitative", "sort": "descending"}
 }}
],
"resolve": {"axis": {"x": "independent"}}
}
